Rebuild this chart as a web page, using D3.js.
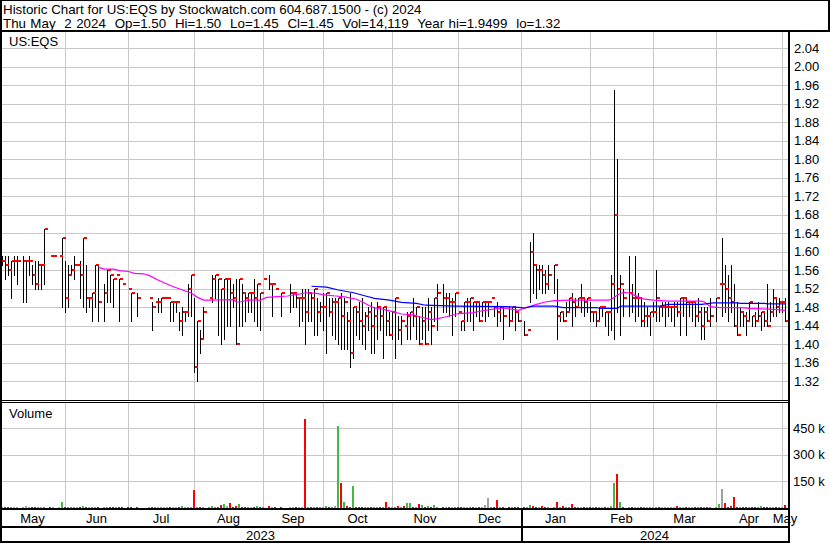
<!DOCTYPE html>
<html><head><meta charset="utf-8">
<script src="https://cdn.jsdelivr.net/npm/d3@7"></script>
<style>
html,body{margin:0;padding:0;background:#fff;}
svg{display:block;font-family:"Liberation Sans",Arial,sans-serif;}
</style></head><body>
<svg id="c" width="830" height="543"></svg>
<script>
// ---------- DATA (one entry per weekday slot, 2023-05-02 .. 2024-05-02) ----------
const highs = [
1.59,1.59,1.59,1.59,1.58,1.59,1.59,null,1.59,1.58,
1.59,1.57,1.58,1.58,1.57,1.65,null,1.59,1.59,null,
1.59,1.63,1.58,1.57,1.57,1.59,1.57,1.58,1.63,1.57,
1.50,1.51,1.57,1.57,null,1.53,1.56,1.55,1.54,1.55,
1.54,1.53,null,1.52,1.51,null,1.51,null,null,null,
1.50,1.49,1.49,1.50,1.50,1.50,1.50,1.49,1.49,1.49,
1.47,1.48,1.47,1.53,1.55,1.50,1.45,1.43,1.48,null,
1.50,1.55,1.55,1.54,1.52,1.54,1.54,1.54,1.53,1.54,
1.54,1.53,1.51,1.51,1.51,1.54,1.53,1.51,1.54,null,
1.55,1.53,1.52,null,1.51,null,null,1.53,1.51,1.51,
1.50,1.52,1.52,1.52,1.51,1.52,1.50,1.49,1.51,1.51,
1.50,1.50,1.50,1.50,1.51,1.50,1.47,1.51,1.48,1.48,
1.49,1.50,1.47,1.48,1.49,1.48,1.49,1.48,1.48,1.48,
1.47,1.47,1.50,1.46,1.46,1.44,1.47,1.47,1.50,1.48,
1.46,1.48,1.48,1.50,1.48,1.50,1.53,null,1.53,1.51,
1.51,1.50,1.51,1.47,1.45,1.49,1.50,1.50,1.49,1.49,
1.49,1.49,1.49,1.49,1.50,1.48,1.49,1.48,1.48,null,
1.48,1.48,1.48,1.47,null,1.45,1.43,1.62,1.64,1.57,
1.57,1.57,1.56,1.57,null,1.57,1.54,1.47,1.47,1.49,
1.50,1.51,1.50,1.50,1.53,1.50,1.50,1.49,1.47,1.47,
1.48,1.48,1.47,1.47,1.55,1.95,1.80,1.55,1.52,null,
1.59,1.53,1.59,1.51,1.50,1.49,1.48,1.47,1.49,1.56,
1.48,1.49,1.49,1.49,1.48,1.49,1.49,1.50,1.50,1.50,
1.49,1.49,1.49,1.50,1.48,1.48,1.48,1.50,null,1.50,
1.53,1.63,1.57,1.55,1.57,1.53,1.49,1.48,1.47,1.47,
1.49,1.46,1.47,1.49,1.47,1.47,1.53,1.49,1.52,1.50,
1.50,1.49,1.50];
const lows = [
1.55,1.57,1.54,1.55,1.50,1.55,1.53,null,1.49,1.49,
1.55,1.53,1.52,1.52,1.52,1.53,null,1.59,1.59,null,
1.59,1.48,1.47,1.48,1.55,1.54,1.57,1.50,1.48,1.47,
1.48,1.45,1.48,1.45,null,1.45,1.49,1.49,1.48,1.55,
1.45,1.53,null,1.52,1.45,null,1.46,null,null,null,
1.50,1.43,1.49,1.47,1.47,1.50,1.50,1.45,1.45,1.47,
1.43,1.42,1.45,1.46,1.46,1.34,1.32,1.38,1.41,null,
1.50,1.49,1.50,1.42,1.40,1.41,1.44,1.44,1.48,1.40,
1.44,1.44,1.45,1.47,1.47,1.45,1.44,1.43,1.54,null,
1.52,1.46,1.52,null,1.46,null,null,1.47,1.48,1.48,
1.44,1.45,1.40,1.45,1.45,1.42,1.42,1.45,1.43,1.38,
1.46,1.42,1.41,1.40,1.39,1.39,1.39,1.35,1.37,1.42,
1.41,1.40,1.39,1.43,1.38,1.38,1.41,1.43,1.37,1.42,
1.42,1.41,1.37,1.41,1.40,1.44,1.41,1.41,1.44,1.41,
1.40,1.41,1.40,1.43,1.40,1.45,1.43,null,1.47,1.47,
1.46,1.42,1.46,1.47,1.43,1.43,1.45,1.45,1.43,1.46,
1.45,1.46,1.45,1.46,1.50,1.46,1.44,1.45,1.41,null,
1.44,1.45,1.43,1.45,null,1.42,1.43,1.49,1.51,1.50,
1.52,1.51,1.51,1.52,null,1.51,1.41,1.45,1.45,1.46,
1.47,1.44,1.46,1.48,1.47,1.46,1.47,1.45,1.45,1.44,
1.45,1.46,1.44,1.42,1.43,1.41,1.47,1.42,1.46,null,
1.46,1.47,1.45,1.46,1.44,1.44,1.44,1.42,1.46,1.45,
1.45,1.46,1.44,1.46,1.45,1.44,1.46,1.42,1.46,1.42,
1.46,1.45,1.44,1.45,1.41,1.41,1.45,1.44,null,1.45,
1.53,1.46,1.47,1.45,1.47,1.44,1.42,1.44,1.44,1.42,
1.45,1.44,1.44,1.45,1.43,1.44,1.44,1.45,1.46,1.46,
1.47,1.47,1.45];
const closes = [
1.58,1.58,1.57,1.56,1.58,1.58,1.58,null,1.58,1.58,
1.58,1.55,1.53,1.57,1.57,1.65,null,1.59,1.59,null,
1.59,1.63,1.50,1.55,1.56,1.57,1.57,1.55,1.63,1.50,
1.50,1.51,1.57,1.49,null,1.51,1.56,1.55,1.54,1.55,
1.54,1.53,null,1.52,1.51,null,1.50,null,null,null,
1.50,1.48,1.49,1.49,1.50,1.50,1.50,1.49,1.49,1.49,
1.45,1.47,1.47,1.52,1.55,1.35,1.45,1.41,1.47,null,
1.50,1.54,1.55,1.54,1.52,1.54,1.54,1.51,1.50,1.40,
1.54,1.51,1.50,1.51,1.51,1.50,1.53,1.51,1.54,null,
1.53,1.53,1.52,null,1.51,null,null,1.51,1.51,1.50,
1.50,1.50,1.47,1.51,1.50,1.52,1.47,1.48,1.48,1.51,
1.47,1.49,1.49,1.50,1.46,1.49,1.45,1.38,1.48,1.47,
1.45,1.44,1.46,1.47,1.44,1.46,1.48,1.46,1.48,1.45,
1.42,1.47,1.50,1.43,1.45,1.44,1.46,1.47,1.46,1.48,
1.40,1.45,1.40,1.47,1.44,1.50,1.51,null,1.50,1.50,
1.49,1.49,1.51,1.47,1.45,1.49,1.49,1.50,1.49,1.49,
1.45,1.49,1.49,1.49,1.50,1.48,1.47,1.48,1.46,null,
1.45,1.48,1.47,1.45,null,1.42,1.43,1.60,1.57,1.56,
1.56,1.55,1.53,1.55,null,1.57,1.46,1.47,1.45,1.47,
1.50,1.49,1.48,1.50,1.50,1.49,1.50,1.47,1.47,1.45,
1.48,1.48,1.47,1.47,1.53,1.68,1.52,1.53,1.50,null,
1.51,1.50,1.50,1.50,1.45,1.46,1.46,1.47,1.47,1.50,
1.48,1.48,1.48,1.48,1.48,1.48,1.47,1.50,1.50,1.49,
1.49,1.49,1.46,1.47,1.44,1.47,1.45,1.46,null,1.50,
1.53,1.53,1.52,1.50,1.49,1.44,1.42,1.47,1.46,1.45,
1.49,1.46,1.45,1.46,1.47,1.45,1.44,1.47,1.50,1.48,
1.49,1.49,1.45];
// volume in thousands of shares
const volumesK = [
4,3,4,3,5,3,4,0,5,11,
3,4,3,5,3,4,0,2,2,0,
3,30,4,5,3,4,2,4,8,4,
3,4,5,4,0,4,3,4,3,2,
4,2,0,3,4,0,3,0,0,0,
3,4,3,4,3,3,3,4,3,4,
4,11,4,5,4,102,5,4,3,0,
4,6,4,5,17,22,11,28,4,6,
22,4,3,4,3,4,6,3,3,0,
11,3,2,0,3,0,0,4,3,3,
4,3,503,4,3,4,3,3,4,6,
4,4,11,463,137,34,11,4,125,4,
3,4,3,4,3,4,5,3,4,34,
4,3,4,11,3,11,28,25,4,3,
22,17,4,11,3,17,4,0,3,3,
4,3,5,3,4,3,4,5,3,3,
4,3,17,53,4,3,45,3,5,0,
4,3,5,3,0,4,3,17,11,4,
3,11,4,3,0,4,34,3,11,4,
3,22,3,4,5,3,4,3,4,3,
4,3,4,5,11,137,188,34,4,0,
5,4,5,4,5,3,4,3,4,3,
4,3,4,3,3,4,11,4,3,4,
3,4,5,4,3,4,3,4,0,4,
22,108,28,4,11,57,4,3,4,3,
4,3,4,5,11,4,3,4,5,4,
3,4,14.119];
// moving averages (slot index, value)
const magentaDays = [33,35,38,40,43,45,48,50,53,55,58,61,64,66,68,70,78,79,80,83,87,89,94,96,100,102,105,109,112,115,119,121,123,125,128,131,134,138,140,144,146,149,153,158,161,164,168,171,173,176,179,182,185,191,203,204,206,208,210,213,215,218,223,234,235,237,240,247,250,254,258,262];
const magentaVals = [1.566,1.562,1.562,1.559,1.557,1.553,1.552,1.548,1.538,1.532,1.524,1.517,1.510,1.501,1.495,1.495,1.496,1.491,1.491,1.495,1.495,1.501,1.503,1.504,1.508,1.511,1.510,1.506,1.504,1.502,1.497,1.491,1.484,1.478,1.475,1.470,1.465,1.463,1.459,1.453,1.455,1.459,1.466,1.468,1.472,1.475,1.478,1.475,1.473,1.480,1.486,1.491,1.494,1.495,1.495,1.497,1.506,1.512,1.510,1.502,1.497,1.495,1.493,1.493,1.491,1.481,1.479,1.479,1.477,1.476,1.475,1.473];
const blueDays = [104,109,113,118,122,125,130,134,139,142,152,169,174,175,178,185,188,199,200,206,207,220,223,234,238,246,247,255,256,262];
const blueVals = [1.525,1.523,1.517,1.511,1.504,1.499,1.495,1.490,1.488,1.484,1.482,1.481,1.479,1.478,1.482,1.482,1.479,1.479,1.477,1.477,1.482,1.482,1.486,1.486,1.489,1.489,1.488,1.488,1.487,1.487];
const priceTicks = [1.32,1.36,1.40,1.44,1.48,1.52,1.56,1.60,1.64,1.68,1.72,1.76,1.80,1.84,1.88,1.92,1.96,2.00,2.04];
const volumeTicks = [150,300,450];
const monthNames = ["Jan","Feb","Mar","Apr","May","Jun","Jul","Aug","Sep","Oct","Nov","Dec"];
const headerLine1 = "Historic Chart for US:EQS by Stockwatch.com 604.687.1500 - (c) 2024";
const headerLine2 = "Thu May  2 2024  Op=1.50  Hi=1.50  Lo=1.45  Cl=1.45  Vol=14,119  Year hi=1.9499  lo=1.32";
const symbolLabel = "US:EQS";

// ---------- calendar slots (weekdays) ----------
const DAY = 86400000;
const days = [];
for (let t = Date.UTC(2023,4,2); t <= Date.UTC(2024,4,2); t += DAY) {
  const w = new Date(t).getUTCDay();
  if (w !== 0 && w !== 6) days.push(t);
}

const svg = d3.select("#c");
const PL = 2, PR = 788;
const X = d3.scaleLinear().domain([0, days.length - 1]).range([-1, 785]);
const Y = d3.scaleLinear().domain([1.32, 2.04]).range([381, 48.3]);
const V = d3.scaleLinear().domain([0, 600]).range([507.5, 402]);

svg.append("rect").attr("width",830).attr("height",543).attr("fill","#fff");

// month boundaries
const months = [];
for (let m = 0; m < 13; m++) {
  const yr = 2023 + Math.floor((4 + m) / 12), mo = (4 + m) % 12;
  const first = Date.UTC(yr, mo, 1);
  const k = Math.max(0, d3.bisectRight(days, first) - 1);
  months.push({yr, mo, k, x: m === 0 ? 0 : Math.round(X(k))});
}

const grid = svg.append("g").attr("shape-rendering","crispEdges").attr("stroke","#c8c8c8").attr("stroke-width",1);
months.slice(1).forEach(m => {
  grid.append("line").attr("x1", m.x + 0.5).attr("x2", m.x + 0.5).attr("y1", 32).attr("y2", 400);
  grid.append("line").attr("x1", m.x + 0.5).attr("x2", m.x + 0.5).attr("y1", 403).attr("y2", 508);
});
priceTicks.forEach(p => {
  const y = Math.round(Y(p)) + 0.5;
  grid.append("line").attr("x1", PL).attr("x2", PR).attr("y1", y).attr("y2", y);
});
volumeTicks.forEach(v => {
  const y = Math.round(V(v)) + 0.5;
  grid.append("line").attr("x1", PL).attr("x2", PR).attr("y1", y).attr("y2", y);
});

// price bars
const idx = d3.range(days.length).filter(i => highs[i] != null);
const bars = svg.append("g").attr("shape-rendering","crispEdges");
bars.selectAll("line.hl").data(idx.filter(i => highs[i] > lows[i])).join("line")
  .attr("x1", i => Math.round(X(i)) + 0.5).attr("x2", i => Math.round(X(i)) + 0.5)
  .attr("y1", i => Math.round(Y(highs[i]))).attr("y2", i => Math.round(Y(lows[i])) + 1)
  .attr("stroke", "#000").attr("stroke-width", 1);
bars.selectAll("rect.cl").data(idx).join("rect")
  .attr("x", i => Math.round(X(i)) + 1).attr("width", 3)
  .attr("y", i => Math.round(Y(closes[i])) - 1).attr("height", 2)
  .attr("fill", "#ff0000");

// moving averages
const line = d3.line().x(d => X(d[0]) + 0.5).y(d => Y(d[1]));
svg.append("path").attr("d", line(magentaDays.map((d,i)=>[d, magentaVals[i]])))
  .attr("fill","none").attr("stroke","#ff00ff").attr("stroke-width",1.2);
svg.append("path").attr("d", line(blueDays.map((d,i)=>[d, blueVals[i]])))
  .attr("fill","none").attr("stroke","#0000ff").attr("stroke-width",1.2);

// volume bars
let prev = null;
const vcol = [];
idx.forEach(i => {
  const c = closes[i];
  vcol[i] = prev == null || c === prev ? "#a0a0a0" : (c > prev ? "#44b844" : "#ff0000");
  prev = c;
});
svg.append("g").attr("shape-rendering","crispEdges")
  .selectAll("rect").data(idx.filter(i => volumesK[i] > 0)).join("rect")
  .attr("x", i => Math.round(X(i)) - 1).attr("width", 2)
  .attr("y", i => V(volumesK[i])).attr("height", i => 508 - V(volumesK[i]))
  .attr("fill", i => vcol[i]);

// frame lines
const frame = svg.append("g").attr("fill","#000").attr("shape-rendering","crispEdges");
frame.append("rect").attr("x",0).attr("y",0).attr("width",830).attr("height",1);
frame.append("rect").attr("x",0).attr("y",0).attr("width",2).attr("height",543);
frame.append("rect").attr("x",828).attr("y",0).attr("width",2).attr("height",31);
frame.append("rect").attr("x",0).attr("y",30).attr("width",830).attr("height",2);
frame.append("rect").attr("x",788).attr("y",30).attr("width",2).attr("height",513);
frame.append("rect").attr("x",0).attr("y",400).attr("width",789).attr("height",1);
frame.append("rect").attr("x",0).attr("y",402).attr("width",789).attr("height",1);
frame.append("rect").attr("x",0).attr("y",508).attr("width",789).attr("height",2);
frame.append("rect").attr("x",0).attr("y",526).attr("width",789).attr("height",2);
frame.append("rect").attr("x",0).attr("y",541).attr("width",789).attr("height",2);
const yearX = months.find(m => m.yr === 2024 && m.mo === 0).x;
frame.append("rect").attr("x",yearX).attr("y",508).attr("width",2).attr("height",35);

// texts
const T = svg.append("g").attr("font-size","13px").attr("fill","#000");
T.append("text").attr("x",3).attr("y",13.5).attr("font-size","13.33px")
  .attr("xml:space","preserve").style("white-space","pre").text(headerLine1);
T.append("text").attr("x",3).attr("y",27.5).attr("font-size","13.33px").attr("word-spacing","0.7px")
  .attr("xml:space","preserve").style("white-space","pre").text(headerLine2);
T.append("text").attr("x",9).attr("y",46).text(symbolLabel);
T.append("text").attr("x",9).attr("y",418).text("Volume");
priceTicks.forEach(p => T.append("text").attr("x",794).attr("y",Y(p)).attr("dy","0.36em").text(d3.format(".2f")(p)));
volumeTicks.forEach(v => T.append("text").attr("x",793).attr("y",V(v)).attr("dy","0.36em").text(v + " k"));
months.forEach((m, j) => {
  const x0 = m.x, x1 = j < months.length - 1 ? months[j+1].x : PR;
  T.append("text").attr("x",(x0 + x1)/2).attr("y",523).attr("text-anchor","middle").text(monthNames[m.mo]);
});
[[2023, 0, yearX], [2024, yearX, PR]].forEach(([yr, a, b]) =>
  T.append("text").attr("x",(a+b)/2).attr("y",539.5).attr("text-anchor","middle").text(String(yr)));
</script>
</body></html>
